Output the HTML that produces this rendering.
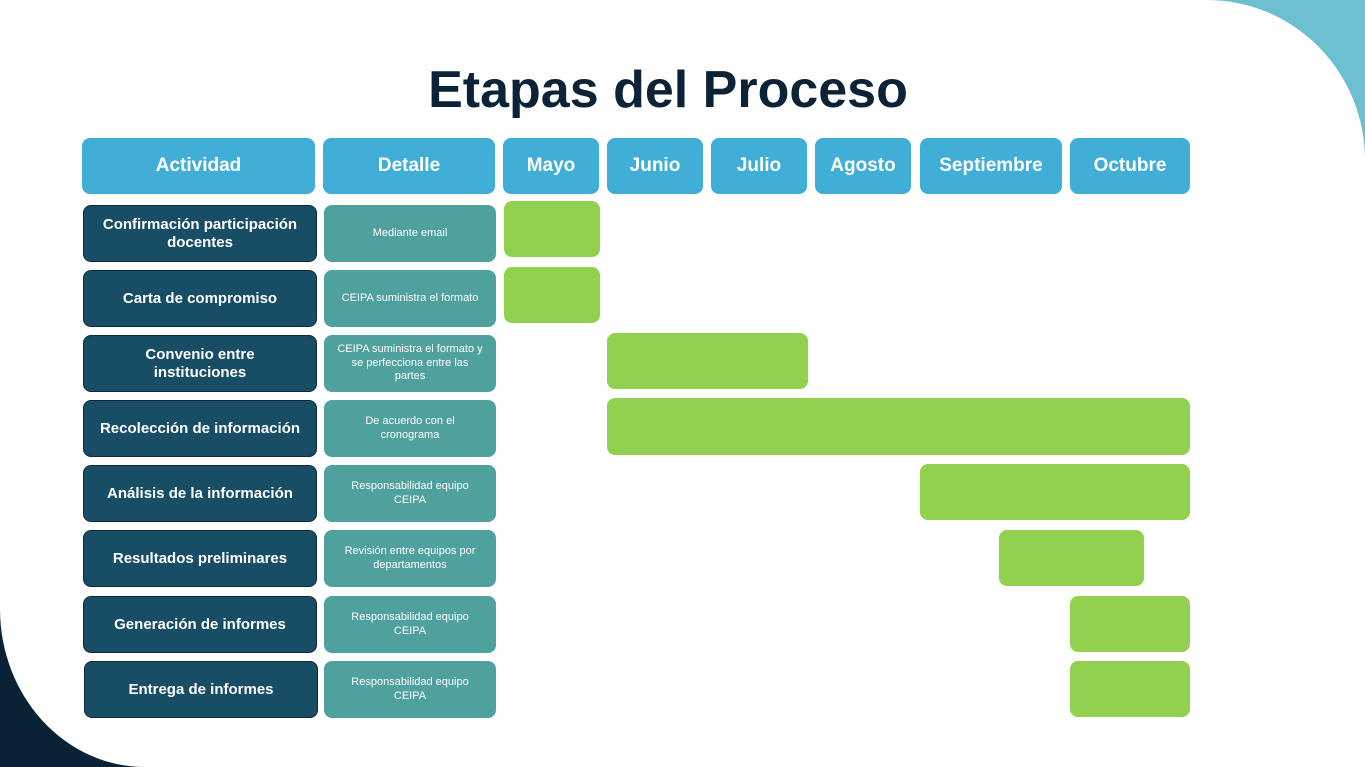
<!DOCTYPE html>
<html><head><meta charset="utf-8"><style>
*{margin:0;padding:0;box-sizing:border-box}
body{width:1365px;height:767px;position:relative;overflow:hidden;background:#fff;font-family:"Liberation Sans",sans-serif}
.tr{position:absolute;right:0;top:0;width:400px;height:400px;background:#6bbfce}
.bl{position:absolute;left:0;bottom:0;width:400px;height:400px;background:#0a2236}
.card{position:absolute;left:0;top:0;width:1365px;height:767px;background:#fff;border-top-right-radius:158px 160px;border-bottom-left-radius:145px 158px}
.b{position:absolute;display:flex;align-items:center;justify-content:center;text-align:center;border-radius:8px}
.h{background:#41aed8;color:#fff;font-weight:bold;font-size:19px}
.a{background:#174e66;color:#fff;font-weight:bold;font-size:15px;border:1px solid #0b2a38;line-height:18px;padding:0 6px}
.d{background:#4fa19e;color:#fff;font-size:11px;line-height:13.5px;padding:0 13px}
.g{background:#92d050}
h1{position:absolute;left:0;width:1336px;top:60px;text-align:center;font-size:52px;font-weight:bold;color:#0b2237}
</style></head><body>
<div class="tr"></div><div class="bl"></div><div class="card"></div>
<h1>Etapas del Proceso</h1>
<div class="b h" style="left:82px;top:138px;width:233px;height:56px">Actividad</div>
<div class="b h" style="left:323px;top:138px;width:172px;height:56px">Detalle</div>
<div class="b h" style="left:503px;top:138px;width:96px;height:56px">Mayo</div>
<div class="b h" style="left:607px;top:138px;width:96px;height:56px">Junio</div>
<div class="b h" style="left:711px;top:138px;width:96px;height:56px">Julio</div>
<div class="b h" style="left:815px;top:138px;width:96px;height:56px">Agosto</div>
<div class="b h" style="left:920px;top:138px;width:142px;height:56px">Septiembre</div>
<div class="b h" style="left:1070px;top:138px;width:120px;height:56px">Octubre</div>

<div class="b a" style="left:83px;top:205px;width:234px;height:57px">Confirmación participación docentes</div>
<div class="b a" style="left:83px;top:270px;width:234px;height:57px">Carta de compromiso</div>
<div class="b a" style="left:83px;top:335px;width:234px;height:57px">Convenio entre<br>instituciones</div>
<div class="b a" style="left:83px;top:400px;width:234px;height:57px">Recolección de información</div>
<div class="b a" style="left:83px;top:465px;width:234px;height:57px">Análisis de la información</div>
<div class="b a" style="left:83px;top:530px;width:234px;height:57px">Resultados preliminares</div>
<div class="b a" style="left:83px;top:596px;width:234px;height:57px">Generación de informes</div>
<div class="b a" style="left:84px;top:661px;width:234px;height:57px">Entrega de informes</div>

<div class="b d" style="left:324px;top:205px;width:172px;height:57px">Mediante email</div>
<div class="b d" style="left:324px;top:270px;width:172px;height:57px">CEIPA suministra el formato</div>
<div class="b d" style="left:324px;top:335px;width:172px;height:57px">CEIPA suministra el formato y se perfecciona entre las partes</div>
<div class="b d" style="left:324px;top:400px;width:172px;height:57px">De acuerdo con el cronograma</div>
<div class="b d" style="left:324px;top:465px;width:172px;height:57px">Responsabilidad equipo CEIPA</div>
<div class="b d" style="left:324px;top:530px;width:172px;height:57px">Revisión entre equipos por departamentos</div>
<div class="b d" style="left:324px;top:596px;width:172px;height:57px">Responsabilidad equipo CEIPA</div>
<div class="b d" style="left:324px;top:661px;width:172px;height:57px">Responsabilidad equipo CEIPA</div>

<div class="b g" style="left:504px;top:201px;width:96px;height:56px"></div>
<div class="b g" style="left:504px;top:267px;width:96px;height:56px"></div>
<div class="b g" style="left:607px;top:333px;width:201px;height:56px"></div>
<div class="b g" style="left:607px;top:398px;width:583px;height:57px"></div>
<div class="b g" style="left:920px;top:464px;width:270px;height:56px"></div>
<div class="b g" style="left:999px;top:530px;width:145px;height:56px"></div>
<div class="b g" style="left:1070px;top:596px;width:120px;height:56px"></div>
<div class="b g" style="left:1070px;top:661px;width:120px;height:56px"></div>
</body></html>
